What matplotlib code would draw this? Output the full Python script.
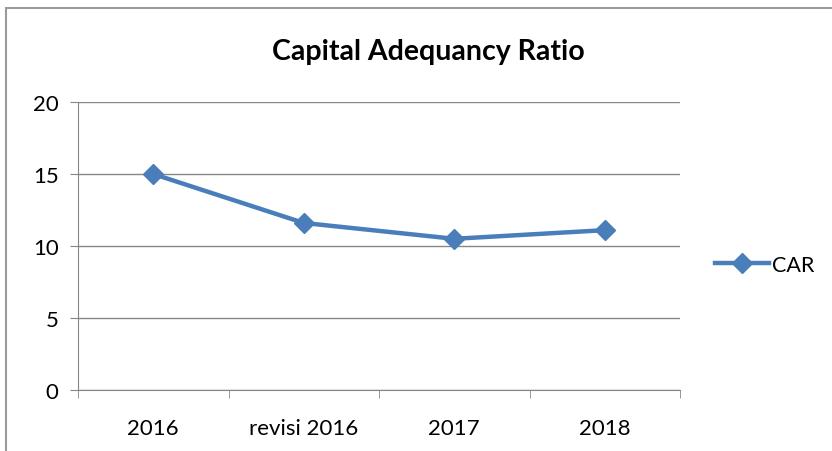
import matplotlib.pyplot as plt
from matplotlib.patches import Rectangle

# data
categories = ['2016', 'revisi 2016', '2017', '2018']
car = [15.0, 11.6, 10.5, 11.1]

plt.rcParams['font.family'] = ['Lato', 'DejaVu Sans']

fig = plt.figure(figsize=(8.32, 4.52), dpi=100)
ax = fig.add_axes([78 / 832, 1 - 391 / 452, 602 / 832, 288 / 452])

# chart frame like Excel
fig.patches.append(Rectangle((6 / 832, -0.1), 1.2, 1 - 9 / 452 + 0.1,
                             transform=fig.transFigure, fill=False,
                             edgecolor='#9a9a9a', linewidth=1.5))

blue = '#4a7ebb'
x = list(range(len(categories)))
ax.plot(x, car, color=blue, linewidth=3.2, marker='D', markersize=10,
        label='CAR', zorder=3)

ax.set_xlim(-0.5, len(categories) - 0.5)
ax.set_ylim(0, 20)
ax.set_yticks([0, 5, 10, 15, 20])
ax.set_xticks(x)
ax.set_xticklabels(categories)
ax.set_xticks([i - 0.5 for i in range(len(categories) + 1)], minor=True)
ax.tick_params(axis='x', which='major', length=0, pad=20, labelsize=16)
ax.tick_params(axis='x', which='minor', length=6, color='#868686')
ax.tick_params(axis='y', length=6, color='#868686', pad=8, labelsize=16)

ax.grid(axis='y', color='#868686', linewidth=1)
ax.set_axisbelow(True)
for s in ['top', 'right']:
    ax.spines[s].set_visible(False)
ax.spines['left'].set_color('#868686')
ax.spines['bottom'].set_color('#868686')

fig.text(428 / 832, 1 - 52 / 452, 'Capital Adequancy Ratio', ha='center',
         va='center', fontsize=20.5, fontweight='bold')

ax.legend(loc='center left', bbox_to_anchor=(715 / 832, 1 - 266 / 452),
          bbox_transform=fig.transFigure, frameon=False, fontsize=15.5,
          handlelength=2.5, handletextpad=0.15, borderpad=0, borderaxespad=0)

fig.savefig('out.png', dpi=100)
